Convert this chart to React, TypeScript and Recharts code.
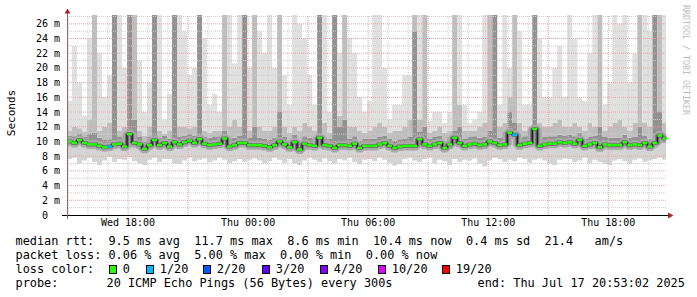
import React from 'react';
import { ComposedChart, Area, Line, XAxis, YAxis, ReferenceLine } from 'recharts';

const MONO = '"DejaVu Sans Mono", monospace';

// minutes since Wed 00:00; one smoke column every 15 minutes
const startMin = 897;
const stepMin = 15;
const endMin = 2693;

const timeTicks = [1080, 1440, 1800, 2160, 2520];
const timeLabels = ['Wed 18:00', 'Thu 00:00', 'Thu 06:00', 'Thu 12:00', 'Thu 18:00'];
const rttTicks = [0, 2, 4, 6, 8, 10, 12, 14, 16, 18, 20, 22, 24, 26];

// median rtt per column (ms)
const median = [
  10.0, 9.8, 10.2, 9.8, 9.6, 9.6, 9.4, 9.2, 9.3, 9.6, 9.7, 9.3, 11.0, 9.8, 9.6, 9.0, 9.5, 10.2, 9.5, 9.8,
  9.3, 9.9, 9.6, 9.9, 10.1, 9.8, 10.3, 9.7, 9.5, 9.6, 9.7, 10.4, 9.3, 9.5, 9.8, 9.8, 9.5, 9.5, 9.5, 9.4,
  9.2, 9.5, 10.0, 9.6, 9.2, 9.9, 8.9, 9.7, 9.5, 9.4, 10.5, 9.5, 9.4, 9.1, 9.5, 9.5, 9.4, 9.7, 9.1, 9.4,
  9.4, 9.4, 9.6, 9.8, 9.4, 9.1, 9.3, 9.4, 9.4, 9.4, 10.3, 9.6, 9.4, 9.6, 9.8, 9.1, 9.6, 10.5, 9.8, 9.4,
  9.6, 9.7, 9.5, 9.6, 10.0, 9.8, 9.5, 9.6, 11.2, 10.9, 9.5, 9.7, 9.8, 11.7, 9.4, 9.6, 9.7, 9.7, 9.9, 9.8,
  9.9, 9.7, 10.2, 9.4, 9.6, 9.8, 9.2, 9.6, 9.5, 9.5, 9.5, 9.9, 9.5, 9.6, 9.5, 9.8, 9.3, 9.8, 10.8, 10.4,
];

// fastest ping per column
const pingMin = [
  7.6, 7.8, 7.0, 7.4, 7.8, 7.2, 6.8, 7.4, 7.9, 7.2, 7.6, 7.5, 7.9, 7.3, 7.0, 6.8, 7.5, 7.8, 7.2, 7.6,
  7.6, 7.0, 6.9, 7.4, 7.8, 7.3, 7.5, 7.7, 7.2, 7.4, 7.8, 7.5, 7.0, 7.3, 7.6, 7.2, 7.5, 7.7, 7.4, 7.0,
  7.3, 7.8, 7.5, 7.1, 7.6, 7.0, 6.8, 7.4, 7.8, 7.5, 7.2, 7.7, 7.3, 7.0, 7.6, 7.4, 7.8, 7.2, 6.9, 7.5,
  7.6, 7.3, 7.8, 7.5, 7.1, 6.7, 6.9, 7.6, 7.8, 7.4, 7.2, 7.6, 7.8, 7.0, 7.5, 7.3, 6.8, 7.6, 7.2, 7.5,
  7.4, 7.7, 7.0, 6.6, 7.4, 7.8, 7.6, 7.2, 7.5, 7.3, 7.8, 7.6, 7.1, 7.5, 7.7, 7.4, 7.0, 6.8, 7.5, 7.7,
  7.6, 7.2, 7.4, 7.8, 7.0, 7.5, 7.2, 7.0, 6.8, 7.4, 7.6, 7.3, 6.9, 7.5, 7.7, 7.2, 7.4, 7.6, 7.8, 7.5,
];

// upper edge of the dark smoke (30 = off the top)
const darkTop = [
  10.8, 10.7, 11.0, 10.6, 11.0, 11.2, 10.5, 10.2, 10.3, 30, 10.6, 10.4, 30, 13.0, 10.6, 10.0, 10.6, 30, 10.5, 10.8,
  10.4, 30, 10.6, 10.8, 11.0, 10.8, 30, 10.6, 10.5, 10.6, 10.7, 11.5, 10.3, 10.5, 10.8, 30, 10.5, 12.0, 10.5, 10.4,
  10.2, 10.5, 14.0, 10.6, 10.2, 10.9, 9.9, 10.7, 10.5, 10.4, 30, 10.5, 10.4, 30, 12.0, 13.0, 10.4, 10.7, 10.1, 10.4,
  10.4, 10.4, 10.6, 10.8, 10.4, 10.1, 10.3, 10.4, 10.6, 25.0, 11.3, 12.0, 10.4, 10.6, 10.8, 10.1, 10.6, 11.5, 12.0, 10.4,
  10.6, 10.7, 10.5, 10.6, 11.5, 30, 10.5, 10.6, 14.0, 12.5, 10.5, 10.7, 10.8, 30, 10.4, 10.6, 10.7, 10.7, 10.9, 10.8,
  10.9, 10.7, 11.2, 10.4, 10.6, 10.8, 12.0, 10.6, 10.5, 10.5, 10.5, 10.9, 10.5, 10.6, 12.0, 10.8, 10.3, 30, 14.0, 11.2,
];

// upper edge of the medium smoke
const midTop = [
  11.5, 12.0, 11.8, 11.3, 13.0, 30, 11.5, 12.0, 12.5, 30, 11.5, 12.0, 30, 30, 11.5, 10.8, 12.0, 30, 11.5, 11.0,
  11.5, 30, 12.0, 12.0, 11.8, 12.0, 30, 11.5, 11.2, 11.5, 11.5, 30, 12.0, 13.0, 12.0, 30, 11.5, 30, 12.0, 11.5,
  11.5, 12.0, 30, 12.0, 11.2, 12.0, 11.5, 12.5, 12.0, 11.5, 30, 12.5, 11.2, 30, 13.5, 30, 12.0, 12.0, 11.5, 11.2,
  11.5, 12.0, 12.5, 12.0, 11.2, 11.5, 11.5, 12.0, 13.0, 30, 13.0, 30, 11.2, 11.5, 12.0, 11.2, 11.5, 30, 15.0, 11.5,
  11.5, 11.5, 12.0, 12.5, 30, 30, 12.0, 12.5, 16.0, 30, 12.5, 11.5, 12.0, 30, 12.5, 12.0, 12.0, 12.5, 13.0, 12.0,
  12.0, 12.5, 12.0, 11.5, 12.5, 12.0, 30, 11.5, 12.0, 12.5, 13.0, 12.0, 11.5, 12.5, 30, 12.5, 12.0, 30, 30, 12.5,
];

// slowest ping per column
const pingMax = [
  15.5, 23.0, 18.0, 13.5, 24.0, 30, 22.0, 16.0, 19.0, 30, 30, 20.0, 30, 30, 21.0, 14.0, 18.0, 30, 30, 13.0,
  16.5, 30, 30, 25.0, 19.0, 20.0, 30, 24.0, 15.0, 16.5, 14.0, 30, 30, 20.6, 30, 30, 20.0, 30, 25.0, 22.0,
  30, 20.0, 30, 19.0, 15.0, 30, 26.0, 24.0, 19.0, 15.0, 30, 30, 14.0, 30, 22.0, 30, 24.0, 22.0, 16.0, 14.0,
  15.5, 30, 30, 20.0, 13.0, 15.0, 15.0, 19.0, 19.0, 30, 30, 30, 12.8, 14.0, 14.0, 12.5, 14.0, 30, 30, 15.0,
  12.5, 13.0, 14.0, 30, 30, 30, 15.0, 30, 20.0, 30, 25.0, 15.0, 15.0, 30, 24.0, 16.0, 16.0, 20.0, 23.0, 16.0,
  30, 24.0, 16.0, 15.5, 22.0, 30, 30, 15.0, 18.0, 30, 26.0, 30, 18.0, 22.0, 30, 30, 25.0, 30, 30, 30,
];

// columns with lost pings
const lossCols = [8, 89];
const lossCount = [1, 1];

const lossLevels = [0, 1, 2, 3, 4, 10, 19];
const lossLabels = ['0', '1/20', '2/20', '3/20', '4/20', '10/20', '19/20'];
const lossColors = ['#26ff00', '#00b8ff', '#0059ff', '#5e00ff', '#7e00ff', '#dd00ff', '#ff0000'];

const statLines = [
  'median rtt:  9.5 ms avg  11.7 ms max  8.6 ms min  10.4 ms now  0.4 ms sd  21.4   am/s',
  'packet loss: 0.06 % avg  5.00 % max  0.00 % min  0.00 % now',
];
const probeText = '20 ICMP Echo Pings (56 Bytes) every 300s';
const endText = 'end: Thu Jul 17 20:53:02 2025';

function lossColor(n: number) {
  let c = lossColors[0];
  lossLevels.forEach((lv, i) => {
    if (n >= lv) c = lossColors[i];
  });
  return c;
}

const rows = median.map((m, i) => {
  const li = lossCols.indexOf(i);
  return {
    t: startMin + i * stepMin,
    base: pingMin[i],
    lowBand: m - pingMin[i],
    darkBand: darkTop[i] - m,
    midBand: midTop[i] - darkTop[i],
    lightBand: pingMax[i] - midTop[i],
    med: m,
    loss: li >= 0 ? lossCount[li] : 0,
  };
});
rows.push({ ...rows[rows.length - 1], t: endMin });

const hourLines = Array.from({ length: 30 }, (_, i) => 900 + i * 60);
const msLines = Array.from({ length: 27 }, (_, i) => i + 1);

const COL_PX = 5;

function MedianMark(props: any) {
  const { cx, cy, payload, index } = props;
  if (cx == null || cy == null || payload.t >= endMin) return <g key={index} />;
  return (
    <rect key={index} x={cx} y={cy - 1.25} width={COL_PX} height={2.5} fill={lossColor(payload.loss)} />
  );
}

function RttTick(props: any) {
  const { x, y, payload } = props;
  const v = payload.value;
  return (
    <text
      x={v === 0 ? x - 12 : x}
      y={y}
      dy="0.35em"
      textAnchor="end"
      fontFamily={MONO}
      fontSize={10}
      fill="#000"
    >
      {v === 0 ? '0' : `${v} m`}
    </text>
  );
}

export default function App() {
  return (
    <div
      style={{
        position: 'absolute',
        left: 0,
        top: 0,
        width: 697,
        height: 297,
        background: '#fff',
        overflow: 'hidden',
      }}
    >
      <ComposedChart
        width={697}
        height={297}
        data={rows}
        margin={{ top: 15, right: 31, bottom: 52, left: 7 }}
      >
        <XAxis
          dataKey="t"
          type="number"
          domain={[startMin, endMin]}
          ticks={timeTicks}
          tickFormatter={(v) => timeLabels[timeTicks.indexOf(v)]}
          axisLine={false}
          tickLine={false}
          tickSize={4}
          tickMargin={0}
          height={30}
          tick={{ fontFamily: MONO, fontSize: 10, fill: '#000' }}
          interval={0}
        />
        <YAxis
          type="number"
          domain={[0, 27.2]}
          allowDataOverflow
          ticks={rttTicks}
          tick={<RttTick />}
          axisLine={false}
          tickLine={false}
          tickSize={7}
          tickMargin={0}
          width={60}
          interval={0}
        />
        <Area type="stepAfter" dataKey="base" stackId="s" stroke="none" fill="none" isAnimationActive={false} />
        <Area type="stepAfter" dataKey="lowBand" stackId="s" stroke="none" fill="#d4d4d4" fillOpacity={1} isAnimationActive={false} />
        <Area type="stepAfter" dataKey="darkBand" stackId="s" stroke="none" fill="#929292" fillOpacity={1} isAnimationActive={false} />
        <Area type="stepAfter" dataKey="midBand" stackId="s" stroke="none" fill="#bebebe" fillOpacity={1} isAnimationActive={false} />
        <Area type="stepAfter" dataKey="lightBand" stackId="s" stroke="none" fill="#e0e0e0" fillOpacity={1} isAnimationActive={false} />
        {msLines.map((v) => (
          <ReferenceLine
            key={`h${v}`}
            y={v}
            stroke={v % 2 === 0 ? '#eea0a0' : '#cccccc'}
            strokeDasharray="1 1"
            ifOverflow="hidden"
          />
        ))}
        {hourLines.map((v) => (
          <ReferenceLine
            key={`v${v}`}
            x={v}
            stroke={(v - 900) % 180 === 0 ? '#eea0a0' : '#cccccc'}
            strokeDasharray="1 1"
            ifOverflow="hidden"
          />
        ))}
        <Line type="stepAfter" dataKey="med" stroke="#a8a8a8" strokeWidth={9} strokeLinejoin="bevel" dot={false} isAnimationActive={false} />
        <Line type="stepAfter" dataKey="med" stroke="#6e6e6e" strokeWidth={4} strokeLinejoin="bevel" dot={false} isAnimationActive={false} />
        <Line type="stepAfter" dataKey="med" stroke="#000" strokeWidth={1} dot={false} isAnimationActive={false} />
        <Line
          type="stepAfter"
          dataKey="med"
          stroke="none"
          dot={(p: any) => <MedianMark {...p} />}
          isAnimationActive={false}
        />
      </ComposedChart>

      <svg
        width={697}
        height={297}
        style={{ position: 'absolute', left: 0, top: 0, pointerEvents: 'none' }}
      >
        <line x1={62} y1={215.5} x2={669} y2={215.5} stroke="#000" />
        <line x1={67.5} y1={219} x2={67.5} y2={12} stroke="#8a6a6a" />
        <polygon points="64.5,13.5 70.5,13.5 67.5,8.5" fill="#a02828" />
        <polygon points="668,212.5 668,218.5 673.5,215.5" fill="#a02828" />
        <text
          x={11}
          y={113}
          transform="rotate(-90, 11, 113)"
          textAnchor="middle"
          dy="0.35em"
          fontFamily={MONO}
          fontSize={11}
          fill="#000"
        >
          Seconds
        </text>
        <text
          x={683}
          y={5}
          transform="rotate(90, 683, 5)"
          textAnchor="start"
          fontFamily={MONO}
          fontSize={8.3}
          fill="#bcbcbc"
        >
          RRDTOOL / TOBI OETIKER
        </text>
      </svg>

      <div style={{ position: 'absolute', left: 0, top: 0, fontFamily: MONO, fontSize: 11.88, lineHeight: '14px', color: '#000', whiteSpace: 'pre' }}>
        {statLines.map((s, i) => (
          <div key={i} style={{ position: 'absolute', left: 15.5, top: 234 + i * 14 }}>
            {s}
          </div>
        ))}
        <div style={{ position: 'absolute', left: 15.5, top: 262 }}>loss color:</div>
        {lossLabels.map((lab, i) => {
          const sx = [109, 146, 203, 262, 320, 378, 442][i];
          return (
            <React.Fragment key={lab}>
              <div
                style={{
                  position: 'absolute',
                  left: sx,
                  top: 265,
                  width: 8,
                  height: 9,
                  boxSizing: 'border-box',
                  border: '1px solid #000',
                  background: lossColors[i],
                }}
              />
              <div style={{ position: 'absolute', left: sx + 13.8, top: 262 }}>{lab}</div>
            </React.Fragment>
          );
        })}
        <div style={{ position: 'absolute', left: 15.5, top: 276 }}>probe:</div>
        <div style={{ position: 'absolute', left: 106.5, top: 276 }}>{probeText}</div>
        <div style={{ position: 'absolute', left: 477.5, top: 276 }}>{endText}</div>
      </div>
    </div>
  );
}
